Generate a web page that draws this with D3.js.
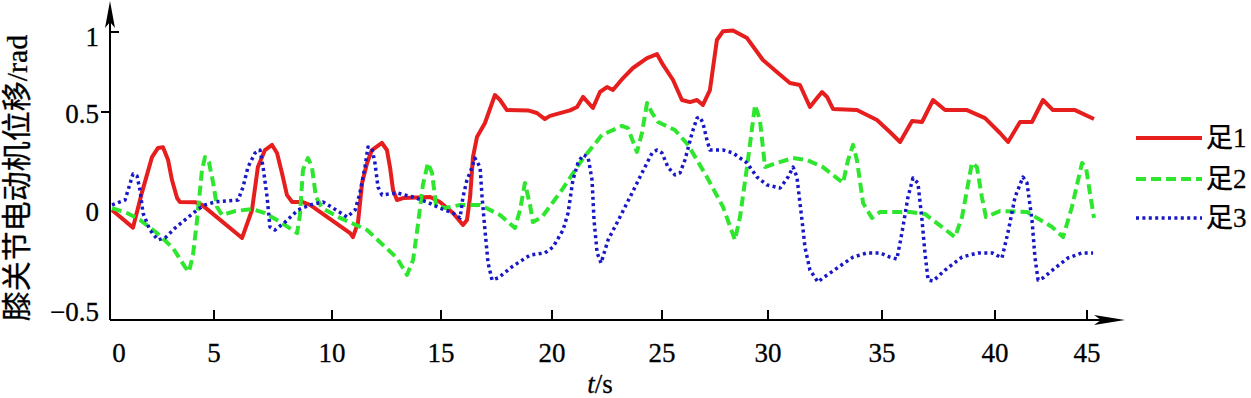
<!DOCTYPE html>
<html>
<head>
<meta charset="utf-8">
<script src="https://cdn.jsdelivr.net/npm/d3@7"></script>
<style>
  body { margin: 0; background: #fff; }
  svg text { font-family: 'Liberation Serif', 'Noto Sans CJK SC', serif; fill: #000; stroke: #000; stroke-width: 0.3px; }
</style>
</head>
<body>
<div id="chart"></div>
<script>
// tick values
const xTicks = [0, 5, 10, 15, 20, 25, 30, 35, 40, 45];
const yTicks = [-0.5, 0, 0.5, 1];
const yTickLabels = ['\u22120.5', '0', '0.5', '1'];

// series names
const seriesNames = ['足1', '足2', '足3'];

// foot 1 (t in s, displacement in rad)
const foot1 = [
    [0, 0], [1.03, -0.08], [1.47, 0.09], [1.96, 0.27], [2.25, 0.316], [2.5, 0.32], [2.75, 0.255],
    [2.94, 0.153], [3.19, 0.061], [3.33, 0.041], [4.07, 0.04], [4.41, 0.026], [6.19, -0.127],
    [6.61, 0], [6.86, 0.219], [7.16, 0.306], [7.46, 0.332], [7.67, 0.291], [7.88, 0.189],
    [8.09, 0.077], [8.31, 0.041], [8.73, 0.041], [9.07, 0.026], [10.83, -0.105], [10.96, -0.123],
    [11.19, -0.059], [11.38, 0.138], [11.61, 0.24], [11.83, 0.306], [12.29, 0.342], [12.52, 0.306],
    [12.66, 0.219], [12.8, 0.102], [12.98, 0.051], [13.26, 0.061], [14.5, 0.066], [14.95, 0.041],
    [15.54, -0.014], [15.99, -0.068], [16.17, -0.045], [16.31, 0.066], [16.44, 0.27], [16.62, 0.372],
    [16.98, 0.444], [17.43, 0.606], [17.66, 0.575], [17.97, 0.512], [18.92, 0.51], [19.32, 0.495],
    [19.68, 0.464], [19.91, 0.48], [20.82, 0.51], [21.14, 0.531], [21.41, 0.594], [21.86, 0.525],
    [22.18, 0.625], [22.5, 0.656], [22.77, 0.637], [23.23, 0.712], [23.68, 0.775], [24.32, 0.837],
    [24.77, 0.862], [25.05, 0.794], [25.52, 0.7], [25.94, 0.575], [26.32, 0.562], [26.65, 0.575],
    [26.93, 0.544], [27.26, 0.637], [27.59, 0.95], [27.88, 1.005], [28.35, 1.01], [29.01, 0.962],
    [29.76, 0.825], [30.39, 0.75], [30.96, 0.681], [31.4, 0.669], [31.84, 0.531], [32.15, 0.587],
    [32.37, 0.625], [32.59, 0.594], [32.85, 0.519], [33.9, 0.512], [34.78, 0.459], [35.35, 0.398],
    [35.8, 0.347], [36.33, 0.454], [36.77, 0.449], [37.26, 0.575], [37.79, 0.512], [38.76, 0.512],
    [39.56, 0.469], [40.27, 0.393], [40.71, 0.347], [41.36, 0.449], [42.01, 0.449], [42.61, 0.575],
    [43.15, 0.512], [44.35, 0.512], [45.38, 0.464]
];

// foot 2
const foot2 = [
    [0, 0.01], [0.74, -0.014], [1.37, -0.045], [2.21, -0.105], [2.99, -0.173], [3.58, -0.259],
    [3.77, -0.282], [3.97, -0.205], [4.17, -0.045], [4.41, 0.204], [4.56, 0.27], [4.75, 0.245],
    [4.95, 0.143], [5.13, 0.015], [5.34, -0.023], [5.89, -0.005], [6.61, 0.005], [7.16, -0.014],
    [7.88, -0.059], [8.52, -0.105], [8.64, -0.023], [8.77, 0.204], [8.98, 0.265], [9.15, 0.219],
    [9.32, 0.066], [9.58, 0.01], [10.37, -0.036], [11.61, -0.091], [12.34, -0.159], [12.98, -0.218],
    [13.44, -0.295], [13.72, -0.227], [13.94, -0.068], [14.17, 0.128], [14.4, 0.24], [14.59, 0.189],
    [14.77, 0.026], [15.18, 0.01], [15.86, 0.026], [16.76, 0.026], [17.66, -0.023], [18.33, -0.082],
    [18.56, 0], [18.78, 0.138], [19.01, 0.026], [19.14, -0.055], [19.55, -0.032], [20.45, 0.102],
    [21.36, 0.255], [22.27, 0.383], [23.18, 0.429], [23.45, 0.418], [23.86, 0.296], [24.09, 0.393],
    [24.32, 0.556], [24.55, 0.495], [24.82, 0.449], [25.61, 0.408], [26.23, 0.332], [27.12, 0.168],
    [27.88, 0.015], [28.44, -0.136], [28.68, -0.032], [29.01, 0.219], [29.39, 0.544], [29.62, 0.459],
    [29.86, 0.219], [30.39, 0.24], [31.1, 0.265], [31.71, 0.255], [32.41, 0.219], [33.29, 0.138],
    [33.51, 0.255], [33.73, 0.332], [33.9, 0.255], [34.17, 0.036], [34.56, -0.036], [34.91, -0.009],
    [36.24, -0.009], [36.9, -0.018], [38.23, -0.123], [38.54, -0.032], [38.98, 0.24], [39.2, 0.219],
    [39.42, 0.066], [39.6, -0.032], [40.27, -0.005], [41.74, -0.009], [43.1, -0.077], [43.7, -0.123],
    [44.18, 0.015], [44.73, 0.24], [44.95, 0.214], [45.16, 0.087], [45.38, -0.036]
];

// foot 3
const foot3 = [
    [0, 0.026], [0.64, 0.051], [1.03, 0.184], [1.23, 0.173], [1.37, 0.102], [1.52, -0.014],
    [1.86, -0.091], [2.25, -0.136], [2.6, -0.127], [3.09, -0.082], [3.58, -0.045], [4.17, 0],
    [4.56, 0.026], [5.04, 0.041], [6.02, 0.051], [6.23, 0.117], [6.44, 0.219], [6.74, 0.291],
    [6.95, 0.306], [7.08, 0.219], [7.25, 0.066], [7.37, -0.077], [7.58, -0.091], [8.01, -0.055],
    [8.56, 0], [9.07, 0.026], [9.62, 0.041], [10.05, 0.01], [10.69, -0.032], [11.06, 0],
    [11.28, 0.087], [11.51, 0.219], [11.65, 0.321], [11.83, 0.316], [11.97, 0.24], [12.11, 0.117],
    [12.29, 0.077], [12.98, 0.087], [13.72, 0.066], [14.36, 0.041], [14.95, 0.01], [15.54, -0.014],
    [15.86, -0.036], [15.99, 0.066], [16.17, 0.153], [16.4, 0.219], [16.53, 0.265], [16.76, 0.219],
    [16.85, 0.066], [16.98, -0.091], [17.12, -0.241], [17.3, -0.318], [17.57, -0.309], [18.24, -0.255],
    [19.01, -0.205], [19.68, -0.195], [20.05, -0.168], [20.5, -0.091], [20.73, -0.014], [20.95, 0.153],
    [21.18, 0.24], [21.41, 0.281], [21.64, 0.27], [21.82, 0.153], [21.91, -0.045], [22.05, -0.195],
    [22.23, -0.241], [22.55, -0.136], [23.09, -0.032], [23.64, 0.087], [24.09, 0.189], [24.55, 0.291],
    [24.77, 0.306], [25, 0.291], [25.28, 0.219], [25.61, 0.179], [25.85, 0.189], [26.08, 0.255],
    [26.42, 0.393], [26.65, 0.469], [26.79, 0.474], [26.93, 0.444], [27.12, 0.357], [27.26, 0.306],
    [27.88, 0.306], [28.35, 0.291], [29.01, 0.24], [29.48, 0.168], [29.95, 0.128], [30.53, 0.112],
    [30.88, 0.168], [31.1, 0.219], [31.27, 0.168], [31.36, 0.077], [31.49, -0.045], [31.62, -0.168],
    [31.84, -0.273], [32.19, -0.327], [32.41, -0.309], [33.03, -0.264], [33.73, -0.214], [34.34, -0.195],
    [34.91, -0.195], [35.35, -0.214], [35.66, -0.223], [35.88, -0.105], [36.15, 0.066], [36.37, 0.163],
    [36.59, 0.138], [36.77, -0.045], [36.9, -0.195], [37.04, -0.318], [37.26, -0.323], [37.79, -0.273],
    [38.54, -0.214], [39.25, -0.195], [39.87, -0.195], [40.38, -0.218], [40.71, -0.1], [41.09, 0.066],
    [41.52, 0.168], [41.74, 0.138], [42.01, -0.045], [42.17, -0.214], [42.34, -0.318], [42.61, -0.309],
    [43.26, -0.264], [43.97, -0.218], [44.73, -0.195], [45.33, -0.195]
];

const width = 1251, height = 398;
const axisX = 110, axisY = 320;

const svg = d3.select('#chart').append('svg')
    .attr('width', width)
    .attr('height', height);

// the printed axis is not evenly spaced, so use polylinear scales
const x = d3.scaleLinear().domain(xTicks).range([112, 214, 332, 441, 552, 662, 768, 882, 995, 1087]);
const y = d3.scaleLinear().domain(yTicks).range([320, 210, 112, 32]);

const styles = [
    {color: '#e61e1e', width: 4, dash: null},
    {color: '#2fe62f', width: 4, dash: '10,5'},
    {color: '#1818c8', width: 3.5, dash: '3,3.4'}
];

const line = d3.line().x(d => x(d[0])).y(d => y(d[1]));

[foot1, foot2, foot3].forEach((data, i) => {
    svg.append('path')
        .datum(data)
        .attr('d', line)
        .attr('fill', 'none')
        .attr('stroke', styles[i].color)
        .attr('stroke-width', styles[i].width)
        .attr('stroke-dasharray', styles[i].dash)
        .attr('stroke-linejoin', 'round');
});

// axes
svg.append('line')
    .attr('x1', axisX).attr('x2', 1110)
    .attr('y1', axisY).attr('y2', axisY)
    .attr('stroke', '#000').attr('stroke-width', 2);
svg.append('line')
    .attr('x1', axisX).attr('x2', axisX)
    .attr('y1', axisY).attr('y2', 14)
    .attr('stroke', '#000').attr('stroke-width', 2);

// arrow heads
svg.append('path')
    .attr('d', `M${axisX},1 L${axisX + 5},28 L${axisX},22 L${axisX - 5},28 Z`)
    .attr('fill', '#000');
svg.append('path')
    .attr('d', `M1125,${axisY} L1094,${axisY - 5} L1101,${axisY} L1094,${axisY + 5} Z`)
    .attr('fill', '#000');

// x ticks
svg.selectAll('.xtick')
    .data(xTicks.filter(d => d > 0))
    .join('line')
    .attr('x1', d => x(d)).attr('x2', d => x(d))
    .attr('y1', axisY).attr('y2', axisY - 10)
    .attr('stroke', '#000').attr('stroke-width', 2);

svg.selectAll('.xlabel')
    .data(xTicks)
    .join('text')
    .attr('x', d => d === 0 ? x(d) + 7 : x(d))
    .attr('y', 362)
    .attr('text-anchor', 'middle')
    .attr('font-size', 27)
    .text(d => d);

// y ticks (1 drawn inward, 0.5 outward as in the print)
svg.append('line')
    .attr('x1', axisX).attr('x2', axisX + 9)
    .attr('y1', y(1)).attr('y2', y(1))
    .attr('stroke', '#000').attr('stroke-width', 2);
svg.append('line')
    .attr('x1', axisX - 9).attr('x2', axisX)
    .attr('y1', y(0.5)).attr('y2', y(0.5))
    .attr('stroke', '#000').attr('stroke-width', 2);

svg.selectAll('.ylabel')
    .data(yTicks)
    .join('text')
    .attr('x', 99)
    .attr('y', d => y(d) + (d === 1 ? 5 : d === -0.5 ? -8 : 2))
    .attr('text-anchor', 'end')
    .attr('dominant-baseline', 'central')
    .attr('font-size', 27)
    .text((d, i) => yTickLabels[i]);

// axis titles
const xt = svg.append('text')
    .attr('x', 600).attr('y', 393)
    .attr('text-anchor', 'middle')
    .attr('font-size', 27);
xt.append('tspan').attr('font-style', 'italic').text('t');
xt.append('tspan').text('/s');

svg.append('text')
    .attr('transform', 'translate(16,178) rotate(-90)')
    .attr('text-anchor', 'middle')
    .attr('dominant-baseline', 'central')
    .attr('font-size', 30)
    .text('膝关节电动机位移/rad');

// legend
const legendY = [138, 179, 218];
seriesNames.forEach((name, i) => {
    svg.append('line')
        .attr('x1', 1136).attr('x2', 1202)
        .attr('y1', legendY[i]).attr('y2', legendY[i])
        .attr('stroke', styles[i].color)
        .attr('stroke-width', styles[i].width)
        .attr('stroke-dasharray', styles[i].dash);
    svg.append('text')
        .attr('x', 1206).attr('y', legendY[i])
        .attr('dominant-baseline', 'central')
        .attr('font-size', 27)
        .text(name);
});
</script>
</body>
</html>
